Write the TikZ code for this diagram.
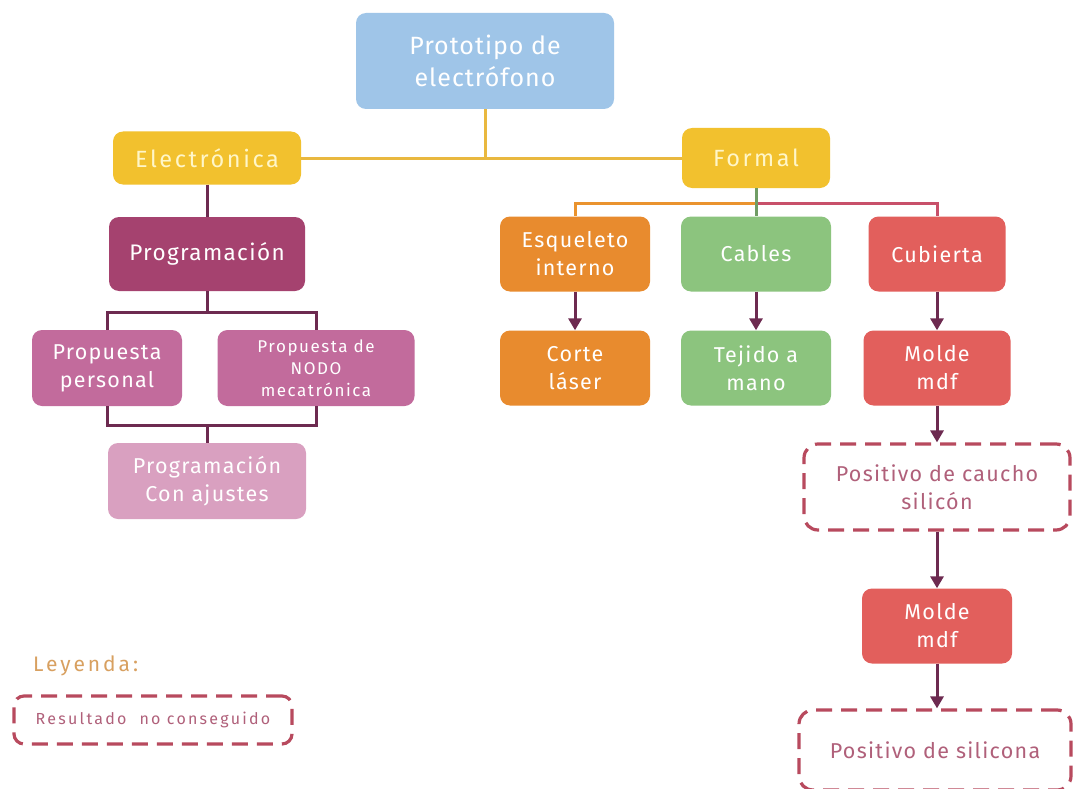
\documentclass[tikz,border=0pt]{standalone}
\usepackage{fontspec}
\setmainfont{Fira Sans}[LetterSpace=6]
\usetikzlibrary{arrows.meta}
\definecolor{cblue}{HTML}{9FC5E8}
\definecolor{cyellow}{HTML}{F2C12E}
\definecolor{cyline}{HTML}{E9B83F}
\definecolor{cprog}{HTML}{A5426F}
\definecolor{cprop}{HTML}{C26B9C}
\definecolor{clight}{HTML}{D9A0C0}
\definecolor{corange}{HTML}{E88B2E}
\definecolor{cgreen}{HTML}{8CC47E}
\definecolor{cred}{HTML}{E25F5C}
\definecolor{cdash}{HTML}{B84A5E}
\definecolor{cdtext}{HTML}{B0607A}
\definecolor{cleg}{HTML}{D8A060}
\definecolor{cdark}{HTML}{6D2A50}
\definecolor{clred}{HTML}{C8506A}
\definecolor{cytext}{HTML}{FFF6C8}
\tikzset{
  box/.style={rounded corners=10pt, inner sep=0pt, align=center, text=white, font=\fontsize{21.5}{28}\selectfont},
  dbox/.style={rounded corners=14pt, inner sep=0pt, align=center, fill=white, draw=cdash, line width=3.2pt,
     dash pattern=on 16pt off 9pt, text=cdtext, font=\fontsize{21.5}{28}\selectfont},
  link/.style={line width=3pt, cdark},
  arr/.style={line width=3pt, cdark, -{Triangle[width=13pt,length=12pt]}},
}
\begin{document}
\begin{tikzpicture}[x=1pt,y=-1pt]
\useasboundingbox[fill=white] (0,0) rectangle (1073,789);
% nodes
\node[box, fill=cblue, minimum width=258pt, minimum height=96pt, font=\fontsize{25}{32}\selectfont\addfontfeatures{LetterSpace=4}] (root) at (485,61) {Prototipo de\\electrófono};
\node[box, fill=cyellow, minimum width=188pt, minimum height=53pt, font=\fontsize{23.5}{28}\selectfont\addfontfeatures{LetterSpace=11}, text=cytext] (elec) at (207,158) {Electrónica};
\node[box, fill=cyellow, minimum width=148pt, minimum height=60pt, font=\fontsize{23.5}{28}\selectfont\addfontfeatures{LetterSpace=11}, text=cytext] (formal) at (756,158) {Formal};
\node[box, fill=cprog, minimum width=196pt, minimum height=74pt, font=\fontsize{22.5}{28}\selectfont\addfontfeatures{LetterSpace=6}] (prog) at (207,254) {Programación};
\node[box, fill=cprop, minimum width=150pt, minimum height=76pt] (pers) at (107,368) {Propuesta\\personal};
\node[box, fill=cprop, minimum width=197pt, minimum height=76pt, font=\fontsize{17}{22}\selectfont\addfontfeatures{LetterSpace=9}] (nodo) at (316,368) {Propuesta de\\NODO\\mecatrónica};
\node[box, fill=clight, minimum width=198pt, minimum height=76pt] (ajus) at (207,481) {Programación\\Con ajustes};
\node[box, fill=corange, minimum width=150pt, minimum height=75pt] (esq) at (575,254) {Esqueleto\\interno};
\node[box, fill=cgreen, minimum width=150pt, minimum height=75pt] (cab) at (756,254) {Cables};
\node[box, fill=cred, minimum width=137pt, minimum height=75pt] (cub) at (937,254) {Cubierta};
\node[box, fill=corange, minimum width=150pt, minimum height=75pt] (corte) at (575,368) {Corte\\láser};
\node[box, fill=cgreen, minimum width=150pt, minimum height=75pt] (tej) at (756,368) {Tejido a\\mano};
\node[box, fill=cred, minimum width=147pt, minimum height=75pt] (molde) at (937,368) {Molde\\mdf};
\node[dbox, minimum width=266pt, minimum height=86pt] (pcau) at (937,487) {Positivo de caucho\\silicón};
\node[box, fill=cred, minimum width=150pt, minimum height=75pt] (molde2) at (937,626) {Molde\\mdf};
\node[dbox, minimum width=272pt, minimum height=80pt] (psil) at (935,750) {Positivo de silicona};
\node[anchor=west, text=cleg, font=\fontsize{21}{24}\selectfont\addfontfeatures{LetterSpace=14}, inner sep=0pt] (ley) at (33,666) {Leyenda:};
\node[dbox, minimum width=278pt, minimum height=48pt, rounded corners=10pt, font=\fontsize{16}{18}\selectfont\addfontfeatures{LetterSpace=14}] (legbox) at (153,720) {Resultado\ \ no conseguido};
% connectors: top level
\draw[line width=3pt, cyline] (root.south) -- (root.south |- elec.east);
\draw[line width=3pt, cyline] (elec.east) -- (formal.west |- elec.east);
% electronica branch
\draw[link] (elec.south) -- (prog.north);
\draw[link] (prog.south) -- ++(0,21) coordinate (pj);
\draw[link] (pers.north) |- (pj) -| (nodo.north);
\draw[link] (pers.south) -- ++(0,19) coordinate (aj) -| (nodo.south);
\draw[link] (ajus.north) -- (ajus.north |- aj);
% formal branch
\coordinate (fj) at (formal.south |- 0,203);
\draw[line width=3pt, corange!85!cyellow] (fj) -| (esq.north);
\draw[line width=3pt, clred] (fj) -| (cub.north);
\draw[line width=3pt, cgreen!80!black] (formal.south) -- (cab.north);
% arrows
\draw[arr] (esq.south) -- (corte.north);
\draw[arr] (cab.south) -- (tej.north);
\draw[arr] (cub.south) -- (molde.north);
\draw[arr] (molde.south) -- (molde.south |- pcau.north);
\draw[arr] (pcau.south -| molde2.north) -- (molde2.north);
\draw[arr] (molde2.south) -- (molde2.south |- psil.north);
\end{tikzpicture}
\end{document}
